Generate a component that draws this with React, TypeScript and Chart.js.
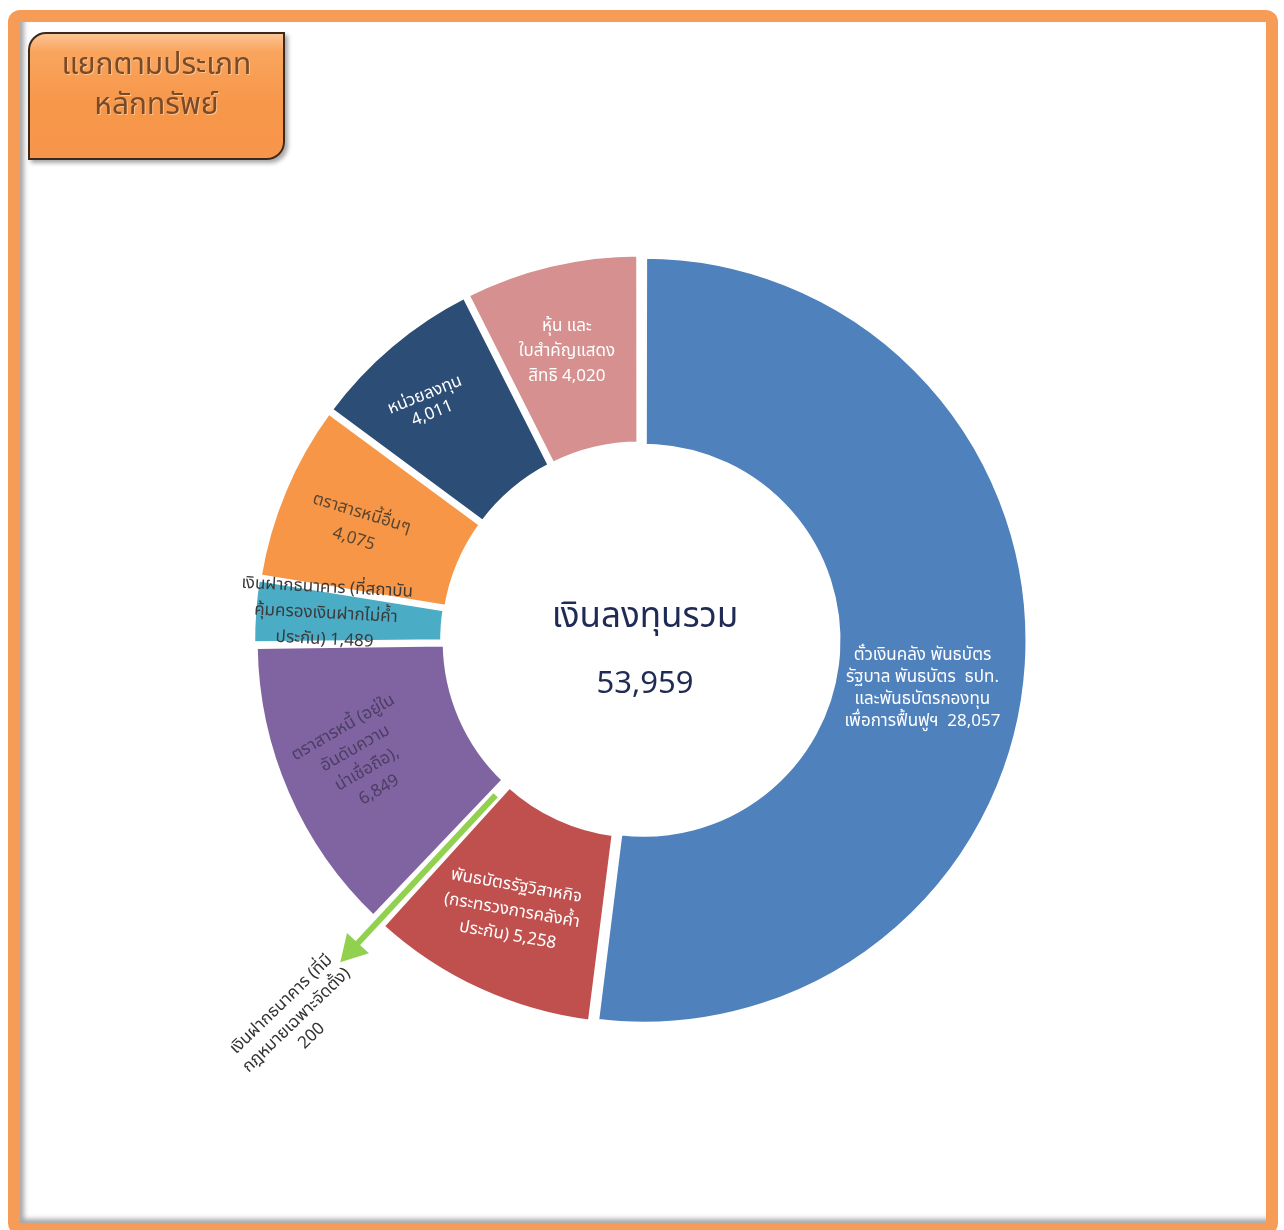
import React, { useEffect, useRef } from 'react';
import { Chart, registerables } from 'chart.js';

Chart.register(...registerables);

// ---------- data ----------
const categories: string[] = [
  'ตั๋วเงินคลัง พันธบัตร\nรัฐบาล พันธบัตร  ธปท.\nและพันธบัตรกองทุน\nเพื่อการฟื้นฟูฯ',
  'พันธบัตรรัฐวิสาหกิจ\n(กระทรวงการคลังค้ำ\nประกัน)',
  'เงินฝากธนาคาร (ที่มี\nกฎหมายเฉพาะจัดตั้ง)',
  'ตราสารหนี้ (อยู่ใน\nอันดับความ\nน่าเชื่อถือ)',
  'เงินฝากธนาคาร (ที่สถาบัน\nคุ้มครองเงินฝากไม่ค้ำ\nประกัน)',
  'ตราสารหนี้อื่นๆ',
  'หน่วยลงทุน',
  'หุ้น และ\nใบสำคัญแสดง\nสิทธิ',
];
const values: number[] = [28057, 5258, 200, 6849, 1489, 4075, 4011, 4020];
const centerTitle = 'เงินลงทุนรวม';
const boxTitle: string[] = ['แยกตามประเภท', 'หลักทรัพย์'];

// ---------- styles ----------
const sliceColors = ['#4F81BD', '#C0504D', '#92D050', '#8064A2', '#4BACC6', '#F79646', '#2C4D75', '#D5908F'];
const labelColors = ['#FFFFFF', '#FFFFFF', '#333333', '#4A3E62', '#3A3A3A', '#5A4632', '#FFFFFF', '#FFFFFF'];
const valueSeparators = ['  ', ' ', '\n', ',\n', ' ', '\n', '\n', ' '];
const labelRotationDeg = [0, 10, -44, -30, 3, 17, -22, 0];
const labelRadiusT = [0.5, 0.5, 1.74, 0.5, 0.5, 0.5, 0.5, 0.5];
const labelNudgeX = [-2, -9, 12, -17, -30, -20, -27, -7];
const labelNudgeY = [32, 13, 0, 6, -4, -2, -17, -10];
const labelLineHeight = [22, 25, 22, 24, 26, 27, 20, 25];
const arrowIndex = 2;
const FONT = 'Tahoma, "Noto Sans Thai", "Leelawadee UI", "Noto Sans", sans-serif';

const fmt = (v: number) => v.toLocaleString('en-US');

const labelPlugin = {
  id: 'sliceLabels',
  afterDatasetsDraw(chart: any) {
    const ctx: CanvasRenderingContext2D = chart.ctx;
    const meta = chart.getDatasetMeta(0);
    meta.data.forEach((arc: any, i: number) => {
      const p = arc.getProps(['x', 'y', 'startAngle', 'endAngle', 'innerRadius', 'outerRadius'], true);
      const mid = (p.startAngle + p.endAngle) / 2;
      if (i === arrowIndex) {
        const r1 = p.innerRadius + 22;
        const tip = p.outerRadius + 60;
        const head = 26;
        const cx = Math.cos(mid), sy = Math.sin(mid);
        ctx.save();
        ctx.lineCap = 'butt';
        ctx.strokeStyle = 'rgba(255,255,255,0.9)';
        ctx.lineWidth = 10;
        ctx.beginPath();
        ctx.moveTo(p.x + cx * r1, p.y + sy * r1);
        ctx.lineTo(p.x + cx * (tip - head), p.y + sy * (tip - head));
        ctx.stroke();
        ctx.strokeStyle = '#92D050';
        ctx.lineWidth = 6;
        ctx.beginPath();
        ctx.moveTo(p.x + cx * r1, p.y + sy * r1);
        ctx.lineTo(p.x + cx * (tip - head + 2), p.y + sy * (tip - head + 2));
        ctx.stroke();
        const bx = p.x + cx * (tip - head), by = p.y + sy * (tip - head);
        const nx = -sy, ny = cx;
        ctx.fillStyle = '#92D050';
        ctx.beginPath();
        ctx.moveTo(p.x + cx * tip, p.y + sy * tip);
        ctx.lineTo(bx + nx * 15, by + ny * 15);
        ctx.lineTo(bx - nx * 15, by - ny * 15);
        ctx.closePath();
        ctx.fill();
        ctx.restore();
      }
      const r = p.innerRadius + labelRadiusT[i] * (p.outerRadius - p.innerRadius);
      const x = p.x + Math.cos(mid) * r + labelNudgeX[i];
      const y = p.y + Math.sin(mid) * r + labelNudgeY[i];
      const text = categories[i] + valueSeparators[i] + fmt(values[i]);
      const lines = text.split('\n');
      const lh = labelLineHeight[i];
      ctx.save();
      ctx.translate(x, y);
      ctx.rotate((labelRotationDeg[i] * Math.PI) / 180);
      ctx.font = `17px ${FONT}`;
      ctx.fillStyle = labelColors[i];
      ctx.textAlign = 'center';
      ctx.textBaseline = 'middle';
      lines.forEach((ln, k) => {
        ctx.fillText(ln, 0, (k - (lines.length - 1) / 2) * lh);
      });
      ctx.restore();
    });
    // center text
    const a0 = meta.data[0];
    if (a0) {
      const total = values.reduce((s, v) => s + v, 0);
      ctx.save();
      ctx.fillStyle = '#1F2B55';
      ctx.textAlign = 'center';
      ctx.textBaseline = 'middle';
      ctx.font = `35px ${FONT}`;
      ctx.fillText(centerTitle, a0.x + 5, a0.y - 20);
      ctx.font = `31px ${FONT}`;
      ctx.fillText(fmt(total), a0.x + 5, a0.y + 47);
      ctx.restore();
    }
  },
};

export default function App() {
  const ref = useRef<HTMLCanvasElement | null>(null);
  useEffect(() => {
    if (!ref.current) return;
    const chart = new Chart(ref.current, {
      type: 'doughnut',
      data: {
        labels: categories,
        datasets: [
          {
            data: values,
            backgroundColor: sliceColors,
            borderColor: '#FFFFFF',
            borderWidth: 5,
            offset: 16,
          },
        ],
      },
      options: {
        responsive: false,
        animation: false,
        cutout: '50%',
        layout: { padding: { left: 249.5, top: 249.5, right: 253.5, bottom: 199.5 } },
        plugins: { legend: { display: false }, tooltip: { enabled: false }, title: { display: false } },
        events: [],
      },
      plugins: [labelPlugin],
    });
    return () => chart.destroy();
  }, []);

  return (
    <div style={{ position: 'absolute', left: 0, top: 0, width: 1284, height: 1230, overflow: 'hidden', background: '#FFFFFF' }}>
      <div
        style={{
          position: 'absolute',
          left: 8,
          top: 10,
          width: 1270,
          height: 1225,
          boxSizing: 'border-box',
          border: '12px solid #F79C56',
          borderRadius: 12,
          boxShadow: 'inset 4px -4px 5px rgba(0,0,0,0.35)',
          background: '#FFFFFF',
        }}
      />
      <canvas ref={ref} width={1284} height={1230} style={{ position: 'absolute', left: 0, top: 0, width: 1284, height: 1230 }} />
      <div
        style={{
          position: 'absolute',
          left: 28,
          top: 32,
          width: 257,
          height: 128,
          boxSizing: 'border-box',
          border: '2.5px solid #3B2A1C',
          borderRadius: '18px 0 18px 0',
          background: 'linear-gradient(to bottom, #FCC593 0%, #F9A55E 14%, #F7974A 55%, #F7964A 100%)',
          boxShadow: '3px 3px 4px rgba(0,0,0,0.35)',
          color: '#7A4A28',
          fontFamily: FONT,
          fontSize: 30,
          lineHeight: '40px',
          textAlign: 'center',
          paddingTop: 11,
          textShadow: '1px 1px 0 rgba(255,214,170,0.7)',
        }}
      >
        {boxTitle.map((t, i) => (
          <div key={i}>{t}</div>
        ))}
      </div>
    </div>
  );
}
